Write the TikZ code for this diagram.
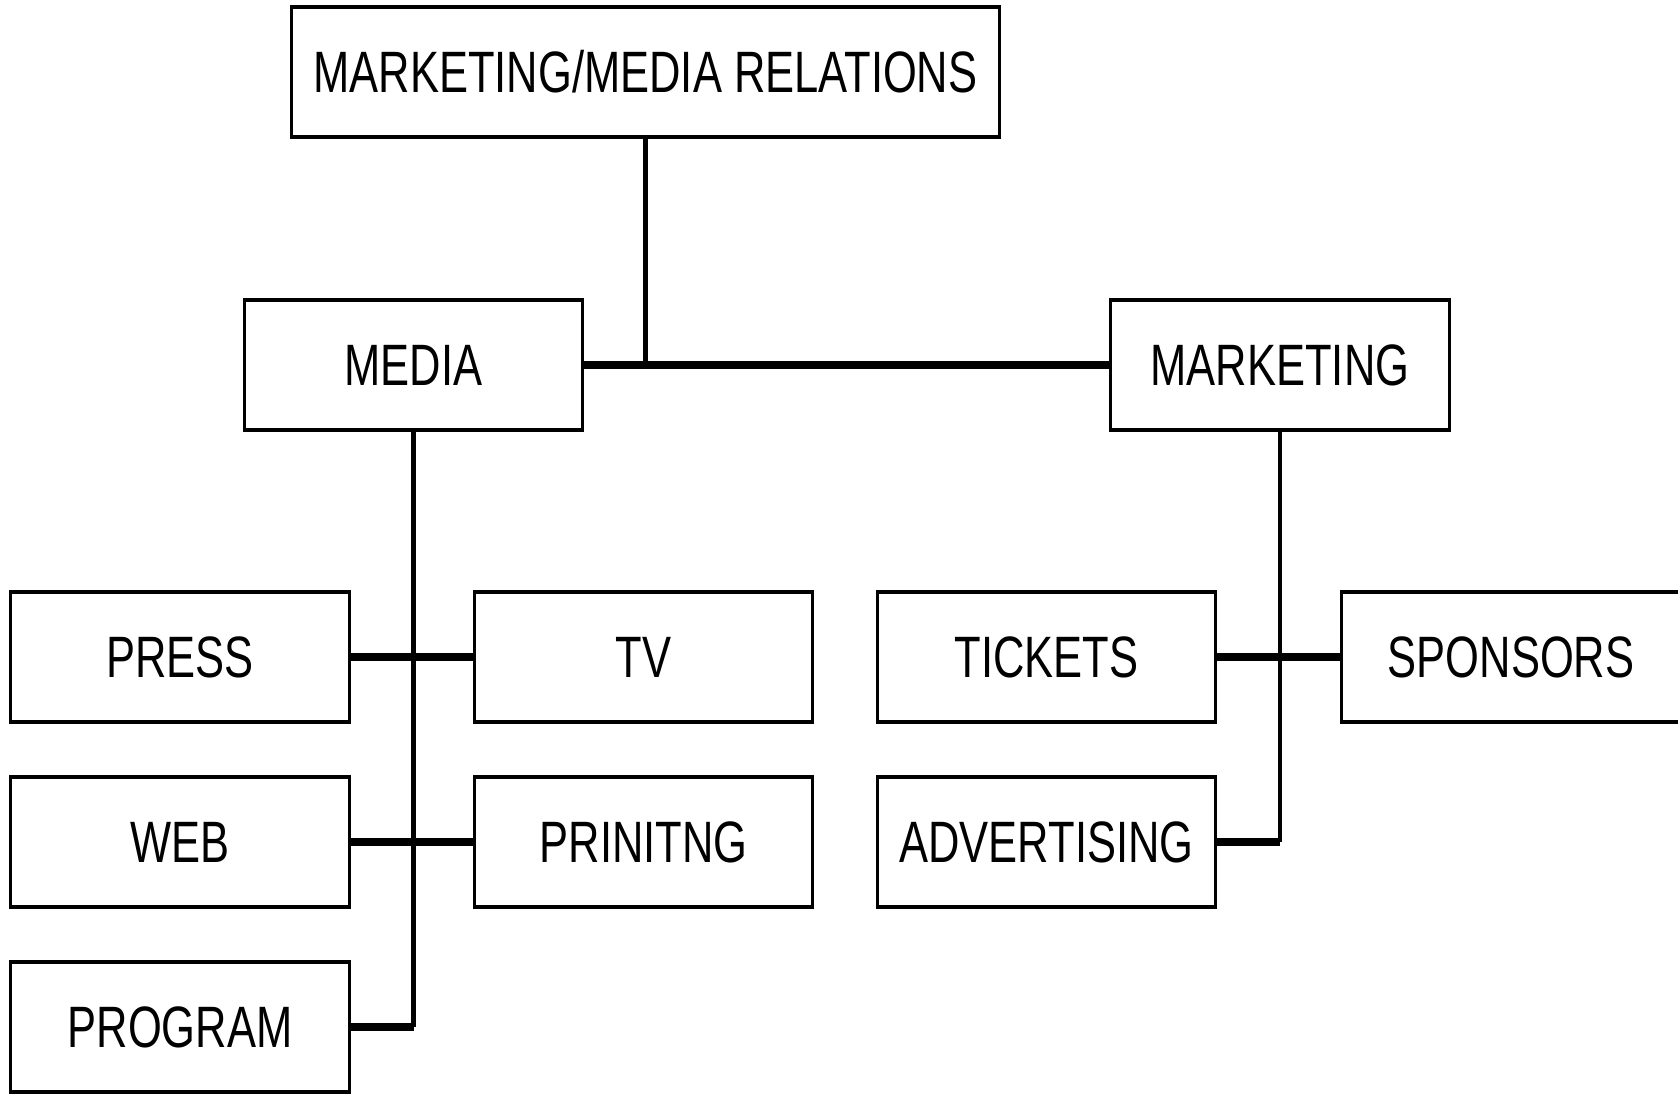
\documentclass[tikz,border=0pt]{standalone}
\usepackage{fontspec}
\setmainfont[FakeStretch=0.745]{Liberation Sans}
\usetikzlibrary{positioning}

\tikzset{
    unit/.style={draw, line width=0.9pt, minimum width=3.38cm, minimum height=1.3cm,
        inner sep=0pt, font=\fontsize{16.6}{19}\selectfont},
    link/.style={line width=2pt},
    spine/.style={line width=1.4pt}
}

\begin{document}
\begin{tikzpicture}[x=0.01cm, y=-0.01cm]
    \useasboundingbox (0,0) rectangle (1678,1094);

    % Head
    \node[unit, minimum width=7.07cm] (head) at (645.5,72) {MARKETING/MEDIA RELATIONS};

    % Departments
    \node[unit] (media) at (413.5,365) {MEDIA};
    \node[unit] (marketing) at (1280,365) {MARKETING};

    % Media units
    \node[unit] (press) at (180,657) {PRESS};
    \node[unit] (tv) at (643.5,657) {TV};
    \node[unit] (web) at (180,842) {WEB};
    \node[unit] (printing) at (643.5,842) {PRINITNG};
    \node[unit] (program) at (180,1027) {PROGRAM};

    % Marketing units
    \node[unit] (tickets) at (1046.5,657) {TICKETS};
    \node[unit] (sponsors) at (1511,657) {SPONSORS};
    \node[unit] (advertising) at (1046.5,842) {ADVERTISING};

    % Head to departments
    \draw[spine] (head.south) -- (head.south |- media.east);
    \draw[link] (media.east) -- (marketing.west);

    % Media branch
    \coordinate (mediaend) at (media.south |- program.east);
    \draw[spine] (media.south) -- (mediaend);
    \draw[link] (press.east) -- (tv.west);
    \draw[link] (web.east) -- (printing.west);
    \draw[link] (program.east) -- (mediaend);

    % Marketing branch
    \coordinate (marketingend) at (marketing.south |- advertising.east);
    \draw[spine] (marketing.south) -- (marketingend);
    \draw[link] (tickets.east) -- (sponsors.west);
    \draw[link] (advertising.east) -- (marketingend);
\end{tikzpicture}
\end{document}
